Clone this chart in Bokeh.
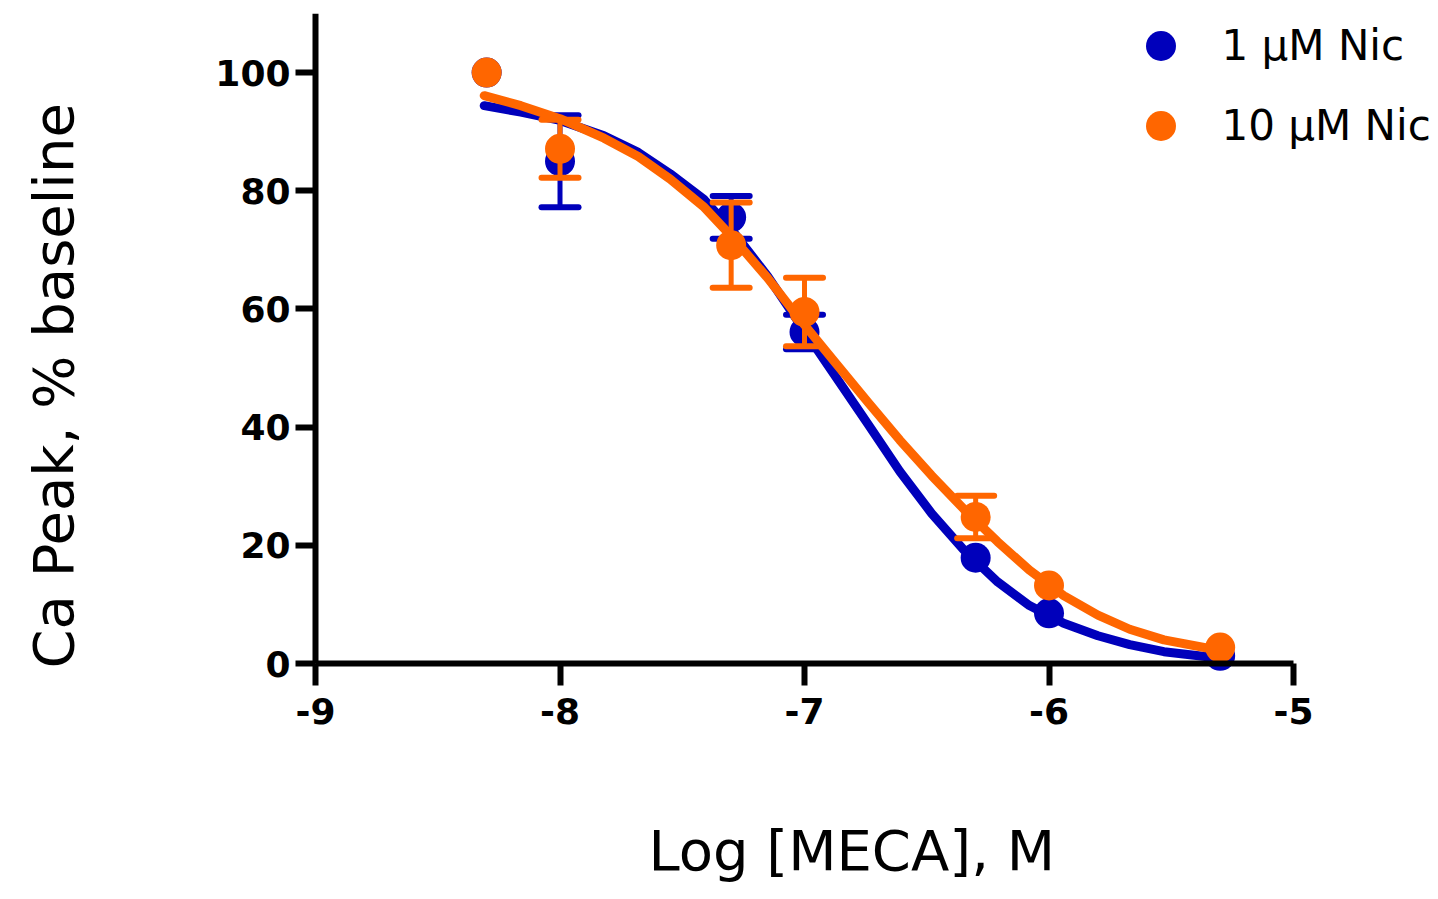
from bokeh.plotting import figure
from bokeh.models import (ColumnDataSource, Legend, LegendItem, FixedTicker, Range1d,
                          CustomJSTickFormatter, Title)
from bokeh.embed import file_html
from bokeh.resources import INLINE

# ---- data ----
log_conc = [-8.3, -8.0, -7.3, -7.0, -6.3, -6.0, -5.3]
nic1_mean = [100.0, 85.0, 75.5, 56.1, 17.9, 8.5, 1.3]
nic1_sem = [0.0, 7.8, 3.6, 2.9, 0.0, 0.0, 0.0]
nic10_mean = [100.0, 87.1, 70.8, 59.5, 24.8, 13.2, 2.7]
nic10_sem = [0.0, 4.9, 7.2, 5.8, 3.6, 0.0, 0.0]

# fitted curves
fit_x = [-8.31, -8.16, -8.0, -7.82, -7.68, -7.55, -7.41, -7.29, -7.15, -7.02, -6.88,
         -6.74, -6.61, -6.48, -6.35, -6.21, -6.08, -5.94, -5.80, -5.67, -5.53, -5.30]
fit1_y = [94.4, 93.3, 91.9, 89.3, 86.5, 82.9, 78.5, 73.0, 65.5, 57.5, 49.0,
          40.5, 32.5, 25.4, 19.3, 13.8, 9.8, 6.8, 4.7, 3.2, 2.0, 0.9]
fit10_y = [96.1, 94.4, 92.2, 88.9, 85.8, 82.0, 77.2, 71.9, 65.2, 58.3, 51.2,
           44.2, 37.8, 31.8, 26.2, 20.6, 15.8, 11.5, 8.2, 5.8, 4.0, 2.2]

labels = ["1 \u03bcM Nic", "10 \u03bcM Nic"]
x_ticks = [-9, -8, -7, -6, -5]
y_ticks = [0, 20, 40, 60, 80, 100]
x_title = "Log [MECA], M"
y_title = "Ca Peak, % baseline"

BLUE = "#0000BB"
ORANGE = "#FF6600"

# frame spans a little beyond the axes so that the axes (placed at x=-9, y=0) and their
# labels are never clipped
p = figure(width=1430, height=891, output_backend="svg", toolbar_location=None,
           x_range=Range1d(-9.9203, -4.4397), y_range=Range1d(-25.72, 110),
           min_border_left=90, min_border_right=0, min_border_top=13, min_border_bottom=76)
p.grid.visible = False
p.outline_line_color = None
p.background_fill_color = "white"
p.border_fill_color = "white"


def err_source(mean, sem):
    xs, up, lo = [], [], []
    for x, m, s in zip(log_conc, mean, sem):
        if s > 0:
            xs.append(x)
            up.append(m + s)
            lo.append(m - s)
    return ColumnDataSource(dict(x=xs, upper=up, lower=lo))


def draw_series(mean, sem, fit_y, color):
    es = err_source(mean, sem)
    p.segment(x0="x", y0="lower", x1="x", y1="upper", source=es, line_color=color, line_width=5)
    p.scatter(x="x", y="upper", source=es, marker="dash", size=37, line_color=color,
              line_width=6, line_cap="round")
    p.scatter(x="x", y="lower", source=es, marker="dash", size=37, line_color=color,
              line_width=6, line_cap="round")
    p.line(fit_x, fit_y, line_color=color, line_width=9, line_cap="round", line_join="round")
    r = p.scatter(log_conc, mean, size=30, fill_color=color, line_color=color, line_width=0)
    return r


r1 = draw_series(nic1_mean, nic1_sem, fit1_y, BLUE)
r10 = draw_series(nic10_mean, nic10_sem, fit10_y, ORANGE)

fmt = CustomJSTickFormatter(code="return String(Math.round(tick));")
for ax in (p.xaxis[0], p.yaxis[0]):
    ax.axis_line_width = 6
    ax.axis_line_color = "black"
    ax.major_tick_line_width = 6
    ax.major_tick_line_color = "black"
    ax.major_tick_in = 0
    ax.minor_tick_line_color = None
    ax.major_label_text_font = "DejaVu Sans"
    ax.major_label_text_font_style = "bold"
    ax.major_label_text_font_size = "36px"
    ax.major_label_text_color = "black"
    ax.formatter = fmt

p.xaxis.bounds = (-9, -5)
p.xaxis.fixed_location = 0
p.yaxis.bounds = (0, 110)
p.yaxis.fixed_location = -9
p.xaxis.ticker = FixedTicker(ticks=x_ticks)
p.yaxis.ticker = FixedTicker(ticks=y_ticks)
p.xaxis.major_tick_out = 22
p.yaxis.major_tick_out = 20
p.xaxis.major_label_standoff = 12
p.yaxis.major_label_standoff = 5

xtitle = Title(text=x_title, align="left", offset=558, standoff=0,
               text_font="DejaVu Sans", text_font_size="56px", text_font_style="normal",
               text_color="black")
p.add_layout(xtitle, "below")

ytitle = Title(text=y_title, align="left", offset=147, standoff=10,
               text_font="DejaVu Sans", text_font_size="56px", text_font_style="normal",
               text_color="black")
p.add_layout(ytitle, "left")

legend = Legend(items=[LegendItem(label=labels[0], renderers=[r1]),
                       LegendItem(label=labels[1], renderers=[r10])],
                location=(1032.5, 652.5), glyph_width=75, glyph_height=75, spacing=5,
                padding=0, margin=0, label_standoff=24,
                label_text_font="DejaVu Sans", label_text_font_size="42px",
                label_text_color="black",
                border_line_alpha=0, background_fill_alpha=0)
p.add_layout(legend)

open("out.html", "w").write(file_html(p, INLINE))
